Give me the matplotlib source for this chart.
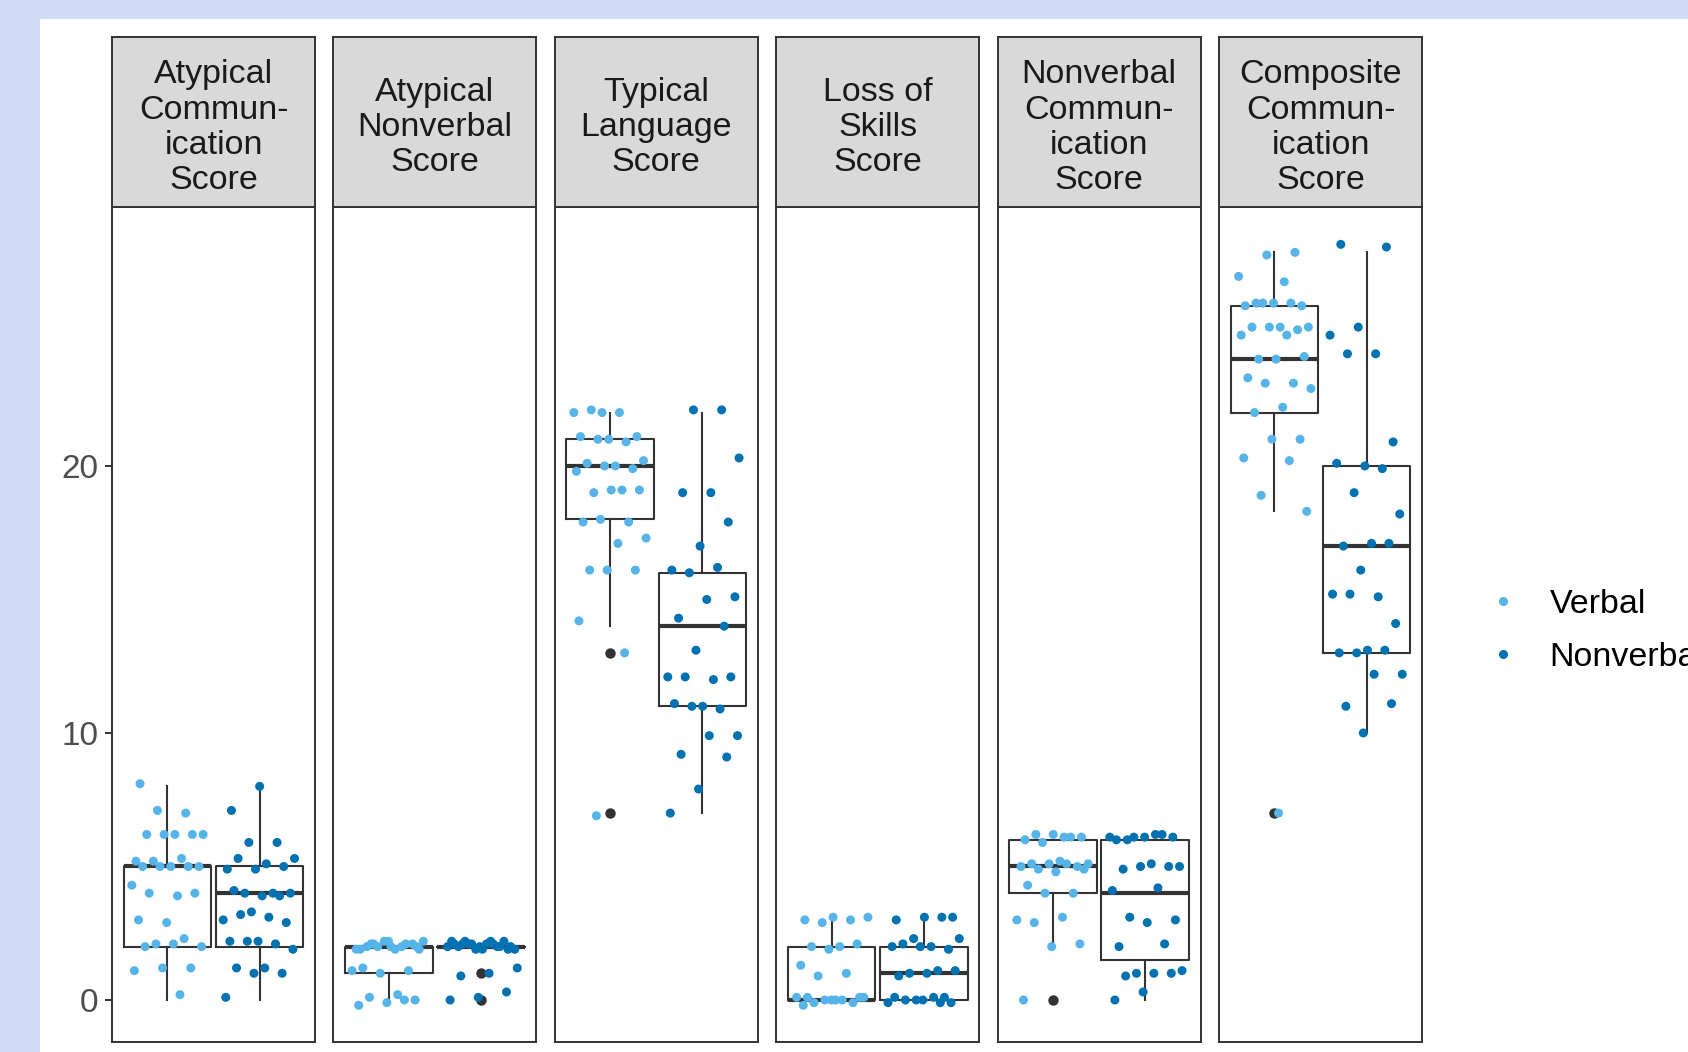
import numpy as np
import matplotlib
matplotlib.use("Agg")
import matplotlib.pyplot as plt
from matplotlib.patches import Rectangle
from matplotlib.lines import Line2D

plt.rcParams["font.family"] = ["Liberation Sans", "DejaVu Sans"]

# facets and groups
facet_labels = [
    "Atypical\nCommun-\nication\nScore",
    "Atypical\nNonverbal\nScore",
    "Typical\nLanguage\nScore",
    "Loss of\nSkills\nScore",
    "Nonverbal\nCommun-\nication\nScore",
    "Composite\nCommun-\nication\nScore",
]
groups = ["Verbal", "Nonverbal"]
group_colors = ["#56B4E9", "#0072B2"]

# individual scores
atyp_comm_verbal = [8.1, 7.0, 7.1, 6.2, 6.2, 6.2, 6.2, 6.2, 5.2, 5.3, 5.2, 5.0, 5.0, 5.0, 5.0, 5.0,
                    4.3, 3.9, 4.0, 4.0, 2.9, 3.0, 2.3, 2.1, 2.0, 2.1, 2.0, 1.2, 1.2, 1.1, 0.2]
atyp_comm_nonverbal = [8.0, 7.1, 5.9, 5.9, 5.3, 5.1, 5.3, 5.0, 4.9, 4.9, 4.0, 4.0, 4.0, 3.9, 4.1, 3.9,
                       3.3, 3.0, 3.1, 3.2, 2.9, 2.2, 2.2, 2.1, 2.2, 1.9, 1.2, 1.2, 1.0, 1.0, 0.1]
atyp_nonv_verbal = [2.1, 2.0, 2.2, 1.9, 2.1, 2.0, 2.2, 1.9, 2.0, 2.1, 2.2, 1.9, 2.0, 2.1, 1.9, 2.0,
                    1.2, 1.1, 1.0, 1.1, 0.2, 0.1, 0.0, -0.1, -0.2, 0.0]
atyp_nonv_nonverbal = [2.2, 2.1, 1.9, 2.0, 2.2, 2.0, 2.1, 1.9, 2.1, 2.0, 2.2, 1.9, 2.0, 2.1, 2.2, 2.0,
                       1.9, 2.1, 2.0, 2.1, 1.2, 1.0, 0.9, 0.3, 0.1, 0.0]
typ_lang_verbal = [22.0, 22.0, 22.0, 22.1, 21.1, 21.0, 21.1, 20.9, 21.0, 20.2, 20.0, 20.1, 19.9, 20.0,
                   19.8, 19.1, 19.0, 19.1, 19.1, 17.9, 17.9, 18.0, 17.3, 17.1, 16.1, 16.1, 16.1,
                   14.2, 13.0, 6.9]
typ_lang_nonverbal = [22.1, 22.1, 20.3, 19.0, 19.0, 17.9, 17.0, 16.1, 16.2, 16.0, 15.1, 15.0, 14.3,
                      14.0, 13.1, 12.1, 12.0, 12.1, 12.1, 11.0, 11.1, 10.9, 11.0, 9.9, 9.9, 9.2, 9.1,
                      7.9, 7.0]
loss_verbal = [3.1, 3.0, 3.0, 2.9, 3.1, 2.0, 2.0, 2.1, 1.9, 1.3, 1.0, 0.9, 0.1, 0.0, 0.1, -0.1,
               0.0, 0.1, 0.0, -0.1, 0.1, 0.0, -0.2]
loss_nonverbal = [3.1, 3.1, 3.0, 3.1, 2.3, 2.3, 2.0, 2.1, 1.9, 2.0, 2.0, 1.1, 1.0, 1.1, 1.0, 0.9,
                  0.1, 0.0, -0.1, 0.1, 0.0, -0.1, 0.0, 0.1, -0.1]
nonv_comm_verbal = [6.1, 6.2, 6.1, 6.2, 6.0, 6.1, 5.9, 5.1, 5.2, 5.1, 5.0, 5.1, 5.0, 5.1, 4.9, 4.9,
                    4.8, 4.3, 4.0, 4.0, 3.0, 3.1, 2.9, 2.1, 2.0, 0.0]
nonv_comm_nonverbal = [6.1, 6.2, 6.0, 6.1, 6.1, 6.0, 6.2, 6.1, 5.0, 5.1, 4.9, 5.0, 5.0, 4.1, 4.2,
                       3.1, 3.0, 2.9, 2.0, 2.1, 1.0, 1.1, 1.0, 0.9, 1.0, 0.3, 0.0]
composite_verbal = [28.0, 27.9, 27.1, 26.9, 26.1, 26.0, 26.1, 26.0, 26.1, 26.1, 25.2, 25.2, 25.2,
                    25.1, 25.2, 24.9, 24.9, 24.0, 24.1, 24.0, 23.3, 23.1, 23.1, 22.9, 22.2, 22.0,
                    21.0, 21.0, 20.3, 20.2, 18.9, 18.3, 7.0]
composite_nonverbal = [28.3, 28.2, 25.2, 24.9, 24.2, 24.2, 20.9, 20.0, 20.1, 19.9, 19.0, 18.2, 17.1,
                       17.0, 17.1, 16.1, 15.2, 15.1, 15.2, 14.1, 13.1, 13.0, 13.1, 13.0, 12.2, 12.2,
                       11.0, 11.1, 10.0]

verbal_scores = [atyp_comm_verbal, atyp_nonv_verbal, typ_lang_verbal,
                 loss_verbal, nonv_comm_verbal, composite_verbal]
nonverbal_scores = [atyp_comm_nonverbal, atyp_nonv_nonverbal, typ_lang_nonverbal,
                    loss_nonverbal, nonv_comm_nonverbal, composite_nonverbal]

# box statistics: lower whisker, q1, median, q3, upper whisker
verbal_box = [(0, 2, 5, 5, 8), (0, 1, 2, 2, 2), (14, 18, 20, 21, 22),
              (0, 0, 0, 2, 3), (2, 4, 5, 6, 6), (18.3, 22, 24, 26, 28)]
nonverbal_box = [(0, 2, 4, 5, 8), (2, 2, 2, 2, 2), (7, 11, 14, 16, 22),
                 (0, 0, 1, 2, 3), (0, 1.5, 4, 6, 6), (10, 13, 17, 20, 28)]
verbal_outliers = [[], [], [13, 7], [], [0], [7]]
nonverbal_outliers = [[], [1, 0], [], [], [], []]

W, H = 1688, 1052
fig = plt.figure(figsize=(W / 100, H / 100), dpi=100)
fig.patch.set_facecolor("#CFDBF4")
fig.add_artist(Rectangle((40 / W, 0), 1, 1 - 19 / H, transform=fig.transFigure,
                         facecolor="white", edgecolor="none", zorder=-1))

dark = "#333333"
panel_left, panel_w, panel_step = 112, 203, 221.4
panel_top, panel_bottom, strip_top = 206.7, 1042, 36.6


def jitter(n, phase):
    return ((np.arange(n) * 0.618034 + phase) % 1.0 - 0.5) * 0.8


for i, label in enumerate(facet_labels):
    x0 = (panel_left + i * panel_step) / W
    ax = fig.add_axes([x0, 1 - panel_bottom / H, panel_w / W, (panel_bottom - panel_top) / H])
    ax.set_xlim(0.4, 2.6)
    ax.set_ylim(-1.573, 29.71)
    for s in ax.spines.values():
        s.set_color(dark)
        s.set_linewidth(1.4)

    stats = []
    for box, outs in ((verbal_box[i], verbal_outliers[i]), (nonverbal_box[i], nonverbal_outliers[i])):
        lo, q1, med, q3, hi = box
        stats.append({"whislo": lo, "q1": q1, "med": med, "q3": q3, "whishi": hi, "fliers": outs})
    ax.bxp(stats, positions=[1, 2], widths=0.95, showcaps=False,
           boxprops=dict(color=dark, linewidth=1.5),
           whiskerprops=dict(color=dark, linewidth=1.5),
           medianprops=dict(color=dark, linewidth=3.0),
           flierprops=dict(marker="o", markerfacecolor=dark, markeredgecolor="none", markersize=7.5))

    for g, (scores, col) in enumerate(zip((verbal_scores[i], nonverbal_scores[i]), group_colors)):
        xs = g + 1 + jitter(len(scores), 0.13 * (i + 1) + 0.37 * g)
        ax.scatter(xs, scores, s=42, color=col, edgecolors="none", zorder=3)

    ax.set_xticks([])
    if i == 0:
        ax.set_yticks([0, 10, 20])
        ax.tick_params(axis="y", labelsize=24, labelcolor="#4D4D4D", color=dark,
                       length=5, width=1.4, pad=5)
    else:
        ax.set_yticks([])

    sax = fig.add_axes([x0, 1 - panel_top / H, panel_w / W, (panel_top - strip_top) / H])
    sax.set_facecolor("#D9D9D9")
    sax.set_xticks([])
    sax.set_yticks([])
    for s in sax.spines.values():
        s.set_color(dark)
        s.set_linewidth(1.4)
    sax.text(0.5, 0.465, label, ha="center", va="center", fontsize=24.5, color="#1A1A1A",
             linespacing=1.17, transform=sax.transAxes)

handles = [Line2D([], [], marker="o", ls="", color=c, markersize=5.5) for c in group_colors]
fig.legend(handles, groups, loc="center left", bbox_to_anchor=(1486 / W, 1 - 631 / H),
           frameon=False, fontsize=24.5, handlelength=1.0, handletextpad=0.87,
           labelspacing=0.65, borderpad=0, borderaxespad=0)

fig.savefig("out.png", dpi=100, facecolor=fig.get_facecolor())
